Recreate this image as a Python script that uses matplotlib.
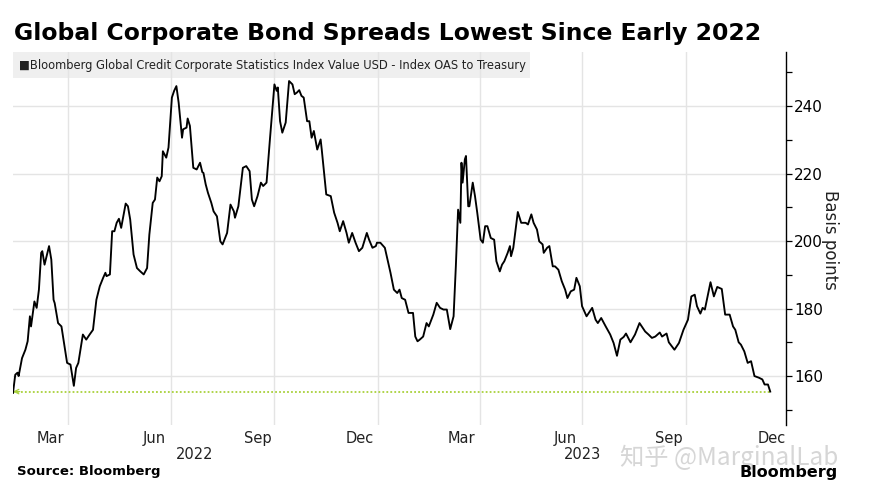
import matplotlib
matplotlib.use("Agg")
import matplotlib.pyplot as plt
import pandas as pd
from matplotlib.patches import Rectangle
from matplotlib.transforms import blended_transform_factory

# ---------------- data ----------------
dates = [
    "2022-02-11", "2022-02-13", "2022-02-15", "2022-02-16", "2022-02-19", "2022-02-22", "2022-02-24", "2022-02-26", "2022-02-27",
    "2022-03-02", "2022-03-04", "2022-03-06", "2022-03-08", "2022-03-09", "2022-03-11", "2022-03-15", "2022-03-17", "2022-03-19", "2022-03-20", "2022-03-23", "2022-03-26", "2022-03-31",
    "2022-04-03", "2022-04-06", "2022-04-08", "2022-04-10", "2022-04-14", "2022-04-17", "2022-04-20", "2022-04-23", "2022-04-26", "2022-04-29",
    "2022-05-02", "2022-05-04", "2022-05-05", "2022-05-08", "2022-05-10", "2022-05-12", "2022-05-14", "2022-05-16", "2022-05-18", "2022-05-21", "2022-05-22", "2022-05-24", "2022-05-26", "2022-05-29",
    "2022-06-01", "2022-06-04", "2022-06-07", "2022-06-10", "2022-06-12", "2022-06-15", "2022-06-17", "2022-06-19", "2022-06-21", "2022-06-23", "2022-06-24", "2022-06-27", "2022-06-29",
    "2022-07-02", "2022-07-04", "2022-07-06", "2022-07-08", "2022-07-11", "2022-07-12", "2022-07-15", "2022-07-16", "2022-07-18", "2022-07-21", "2022-07-24", "2022-07-27", "2022-07-29", "2022-07-30",
    "2022-08-01", "2022-08-03", "2022-08-06", "2022-08-08", "2022-08-11", "2022-08-14", "2022-08-16", "2022-08-20", "2022-08-23", "2022-08-26", "2022-08-27", "2022-08-30",
    "2022-09-03", "2022-09-06", "2022-09-09", "2022-09-11", "2022-09-13", "2022-09-16", "2022-09-19", "2022-09-21", "2022-09-24", "2022-09-27",
    "2022-10-01", "2022-10-03", "2022-10-04", "2022-10-06", "2022-10-08", "2022-10-11", "2022-10-14", "2022-10-17", "2022-10-19", "2022-10-21", "2022-10-23", "2022-10-25", "2022-10-27", "2022-10-30",
    "2022-11-01", "2022-11-03", "2022-11-05", "2022-11-08", "2022-11-11", "2022-11-12", "2022-11-16", "2022-11-20", "2022-11-23", "2022-11-26", "2022-11-28",
    "2022-12-01", "2022-12-04", "2022-12-06", "2022-12-09", "2022-12-12", "2022-12-15", "2022-12-18", "2022-12-22", "2022-12-24", "2022-12-27", "2022-12-30", "2022-12-31",
    "2023-01-03", "2023-01-07", "2023-01-09", "2023-01-12", "2023-01-15", "2023-01-18", "2023-01-20", "2023-01-22", "2023-01-25", "2023-01-28",
    "2023-02-01", "2023-02-03", "2023-02-05", "2023-02-07", "2023-02-10", "2023-02-13", "2023-02-15", "2023-02-19", "2023-02-22", "2023-02-25", "2023-02-28",
    "2023-03-03", "2023-03-06", "2023-03-09", "2023-03-11", "2023-03-13", "2023-03-15", "2023-03-16", "2023-03-17", "2023-03-19", "2023-03-20", "2023-03-22", "2023-03-23", "2023-03-26", "2023-03-28", "2023-03-30",
    "2023-04-02", "2023-04-04", "2023-04-06", "2023-04-08", "2023-04-11", "2023-04-14", "2023-04-16", "2023-04-19", "2023-04-21", "2023-04-23", "2023-04-26", "2023-04-28", "2023-04-29",
    "2023-05-01", "2023-05-05", "2023-05-08", "2023-05-12", "2023-05-14", "2023-05-17", "2023-05-19", "2023-05-22", "2023-05-24", "2023-05-27", "2023-05-28", "2023-05-31",
    "2023-06-02", "2023-06-05", "2023-06-07", "2023-06-10", "2023-06-13", "2023-06-16", "2023-06-18", "2023-06-21", "2023-06-24", "2023-06-26", "2023-06-29",
    "2023-07-01", "2023-07-05", "2023-07-08", "2023-07-10", "2023-07-13", "2023-07-15", "2023-07-18", "2023-07-22", "2023-07-26", "2023-07-29",
    "2023-08-01", "2023-08-04", "2023-08-07", "2023-08-09", "2023-08-13", "2023-08-17", "2023-08-21", "2023-08-24", "2023-08-26", "2023-08-29",
    "2023-09-01", "2023-09-04", "2023-09-08", "2023-09-10", "2023-09-14", "2023-09-16", "2023-09-21", "2023-09-25", "2023-09-29",
    "2023-10-03", "2023-10-06", "2023-10-09", "2023-10-11", "2023-10-14", "2023-10-16", "2023-10-18", "2023-10-23", "2023-10-26", "2023-10-29",
    "2023-11-02", "2023-11-05", "2023-11-09", "2023-11-12", "2023-11-14", "2023-11-17", "2023-11-19", "2023-11-22", "2023-11-25", "2023-11-28",
    "2023-12-01", "2023-12-05", "2023-12-08", "2023-12-10", "2023-12-13", "2023-12-15",
]

oas_bp = [
    155.0, 160.4, 161.0, 160.0, 165.3, 167.8, 170.3, 177.7, 174.7,
    182.1, 180.2, 185.6, 196.5, 197.0, 193.0, 198.5, 194.5, 182.6, 181.6, 175.7, 174.7, 163.9,
    163.4, 157.1, 162.4, 163.9, 172.3, 170.8, 172.3, 173.7, 182.6, 186.6,
    189.1, 190.6, 189.6, 190.1, 202.9, 202.9, 205.4, 206.6, 203.9, 209.3, 211.1, 210.3, 206.4, 196.0,
    192.0, 191.0, 190.1, 192.0, 201.9, 211.3, 212.3, 218.8, 217.7, 219.2, 226.6, 224.7, 227.7,
    242.5, 244.5, 245.9, 241.0, 230.6, 233.1, 233.6, 236.3, 234.1, 221.7, 221.2, 223.2, 220.4, 220.2,
    216.8, 214.3, 211.3, 208.8, 207.3, 199.9, 199.0, 202.4, 210.8, 208.8, 206.9, 210.3,
    221.7, 222.2, 220.7, 212.3, 210.3, 213.3, 217.3, 216.3, 217.3, 230.1,
    246.4, 244.5, 245.5, 235.5, 232.1, 235.1, 247.4, 246.4, 243.5, 244.0, 244.7, 243.0, 242.5, 235.5,
    235.5, 230.6, 232.6, 227.1, 230.1, 227.1, 213.8, 213.3, 208.4, 205.4, 202.9,
    205.9, 202.4, 199.5, 202.4, 199.5, 197.0, 198.0, 202.4, 200.4, 198.0, 198.5, 199.5,
    199.5, 198.0, 195.0, 190.6, 185.6, 184.6, 185.6, 183.1, 182.6, 178.7,
    178.7, 171.7, 170.3, 170.8, 171.7, 175.7, 174.7, 178.2, 181.7, 180.2, 179.7,
    179.7, 173.9, 177.7, 192.5, 209.3, 205.4, 223.2, 217.3, 224.2, 225.2, 210.3, 210.3, 217.3, 213.3, 208.4,
    200.4, 199.5, 204.4, 204.4, 200.9, 200.4, 194.0, 191.0, 193.0, 194.0, 196.5, 198.5, 195.5,
    198.0, 208.6, 205.4, 205.4, 204.9, 207.9, 205.4, 203.4, 199.9, 199.0, 196.5, 198.0,
    198.5, 192.5, 192.5, 191.5, 188.1, 185.6, 183.1, 185.1, 185.6, 189.1, 186.6,
    180.7, 177.7, 179.2, 180.2, 176.7, 175.7, 177.2, 174.7, 172.3, 169.8,
    166.0, 170.8, 171.6, 172.6, 170.0, 172.3, 175.7, 174.2, 173.2, 172.3,
    171.3, 171.7, 172.9, 171.7, 172.6, 170.0, 167.8, 169.8, 173.7,
    176.7, 183.6, 184.1, 180.7, 178.5, 180.2, 179.7, 187.8, 183.6, 186.4,
    185.8, 178.2, 178.2, 174.7, 173.7, 170.0, 169.3, 167.3, 163.9, 164.4,
    160.0, 159.5, 159.0, 157.5, 157.5, 155.4,
]

y_major = [160, 180, 200, 220, 240]
y_minor = [150, 170, 190, 210, 230, 250]
grid_dates = ["2022-04-01", "2022-07-01", "2022-10-01", "2023-01-01", "2023-04-01", "2023-07-01", "2023-10-01"]
month_label_dates = ["2022-03-16", "2022-06-16", "2022-09-16", "2022-12-16",
                     "2023-03-16", "2023-06-16", "2023-09-16", "2023-12-16"]
month_labels = ["Mar", "Jun", "Sep", "Dec", "Mar", "Jun", "Sep", "Dec"]
year_label_dates = ["2022-07-22", "2023-07-01"]
year_labels = ["2022", "2023"]

title = "Global Corporate Bond Spreads Lowest Since Early 2022"
legend_text = "\u25A0Bloomberg Global Credit Corporate Statistics Index Value USD - Index OAS to Treasury"

# ---------------- figure ----------------
W, H = 876, 500
fig = plt.figure(figsize=(W / 100, H / 100), dpi=100)
fig.patch.set_facecolor("white")

ax = fig.add_axes([13 / W, 75 / H, 773 / W, 373 / H])
ax.patch.set_alpha(0)

x = pd.to_datetime(dates)
ax.plot(x, oas_bp, color="black", lw=1.35, zorder=3, solid_joinstyle="round")

latest = oas_bp[-1]
green = "#a9d13c"
ax.plot([x[0], x[-1]], [latest, latest], color=green, lw=1.3,
        ls=(0, (1, 1.2)), zorder=2)
ax.annotate("", xy=(x[0], latest), xytext=(x[0] + pd.Timedelta(days=6), latest),
            arrowprops=dict(arrowstyle="->", color=green, lw=0.9,
                            shrinkA=0, shrinkB=0, mutation_scale=8), zorder=2)

ax.set_xlim(pd.Timestamp("2022-02-11"), pd.Timestamp("2023-12-29"))
ax.set_ylim(145.5, 256)

for s in ["left", "top", "bottom"]:
    ax.spines[s].set_visible(False)
ax.spines["right"].set_color("black")
ax.spines["right"].set_linewidth(1.0)

ax.yaxis.tick_right()
ax.set_yticks(y_major)
ax.set_yticks(y_minor, minor=True)
ax.tick_params(axis="y", which="major", direction="out", length=4, width=0.9,
               labelsize=11, pad=2, colors="black")
ax.tick_params(axis="y", which="minor", direction="out", length=4, width=0.9)
ax.yaxis.grid(True, which="major", color="#e4e4e4", lw=1.0, ls="-")

ax.set_xticks(pd.to_datetime(grid_dates))
ax.set_xticklabels([])
ax.set_xticks(pd.to_datetime(month_label_dates), minor=True)
ax.set_xticklabels(month_labels, minor=True)
ax.tick_params(axis="x", which="both", length=0, pad=4, labelsize=10.5, labelcolor="#222222")
ax.xaxis.grid(True, which="major", color="#e4e4e4", lw=1.0, ls="-")

trans = blended_transform_factory(ax.transData, ax.transAxes)
for d, lab in zip(year_label_dates, year_labels):
    ax.text(pd.Timestamp(d), -0.08, lab, transform=trans, ha="center", va="center",
            fontsize=10.5, color="#222222")

fig.text(830 / W, 1 - 240 / H, "Basis points", rotation=-90, ha="center", va="center",
         fontsize=12, color="#222222")

# legend box
rect = Rectangle((13 / W, 1 - 78 / H), (530 - 13) / W, 26 / H, transform=fig.transFigure,
                 facecolor="#efefef", edgecolor="none", zorder=-1)
fig.patches.append(rect)
fig.text(19 / W, 1 - 65.5 / H, legend_text, ha="left", va="center", fontsize=8.3, color="#222222")

# title & footer
fig.text(14 / W, 1 - 33 / H, title, ha="left", va="center", fontsize=16.9, fontweight="bold",
         color="black")
fig.text(17 / W, 1 - 472 / H, "Source: Bloomberg", ha="left", va="center", fontsize=9.5,
         fontweight="bold", color="black")
fig.text(620 / W, 1 - 458 / H, "知乎 @MarginalLab", ha="left", va="center", fontsize=17.5,
         color="#d6d6d6", family=["Noto Sans CJK SC", "DejaVu Sans"], zorder=1)
fig.text(838 / W, 1 - 473 / H, "Bloomberg", ha="right", va="center", fontsize=11.5,
         fontweight="bold", color="black", zorder=2)

fig.savefig("out.png", dpi=100, facecolor="white")
